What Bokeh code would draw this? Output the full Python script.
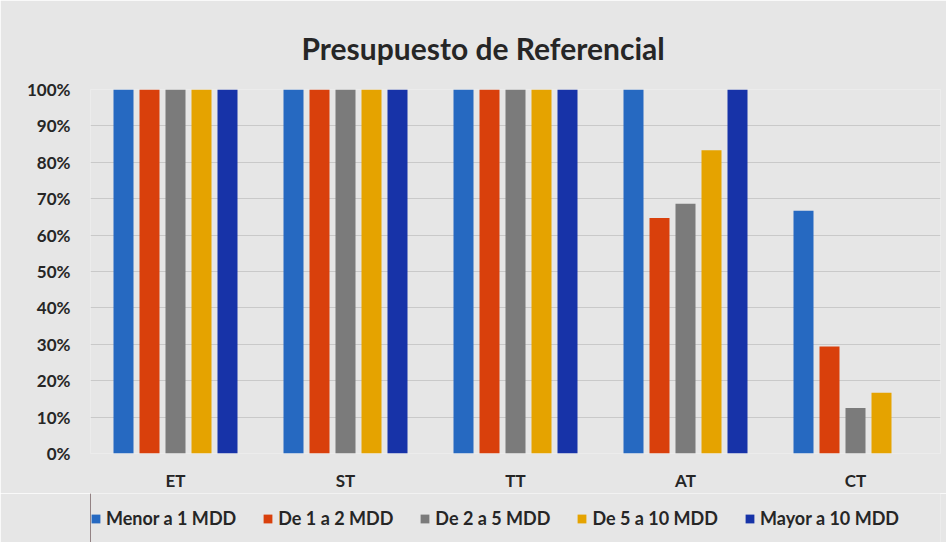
from bokeh.plotting import figure
from bokeh.layouts import column
from bokeh.models import ColumnDataSource, FactorRange, Range1d, NumeralTickFormatter, Legend, LegendItem, Title, FixedTicker
from bokeh.transform import dodge
from bokeh.embed import file_html
from bokeh.resources import INLINE

categories = ["ET", "ST", "TT", "AT", "CT"]
series_names = ["Menor a 1 MDD", "De 1 a 2 MDD", "De 2 a 5 MDD", "De 5 a 10 MDD", "Mayor a 10 MDD"]
menor_1 = [1.00, 1.00, 1.00, 1.00, 0.667]
de_1_2 = [1.00, 1.00, 1.00, 0.647, 0.294]
de_2_5 = [1.00, 1.00, 1.00, 0.686, 0.125]
de_5_10 = [1.00, 1.00, 1.00, 0.833, 0.167]
mayor_10 = [1.00, 1.00, 1.00, 1.00, 0.0]
y_ticks = [0, 0.1, 0.2, 0.3, 0.4, 0.5, 0.6, 0.7, 0.8, 0.9, 1.0]

colors = ["#2669c1", "#d9400c", "#7b7b7b", "#e5a300", "#1733a8"]
keys = ["s0", "s1", "s2", "s3", "s4"]
source = ColumnDataSource(dict(cat=categories, s0=menor_1, s1=de_1_2, s2=de_2_5, s3=de_5_10, s4=mayor_10))

FONT = "Lato"
BG = "#e6e6e6"
TXT = "#262626"

p = figure(x_range=FactorRange(*categories, range_padding=0), y_range=Range1d(0, 1),
           frame_width=850, frame_height=364, output_backend="svg", toolbar_location=None,
           min_border_left=90, min_border_right=6, min_border_top=89, min_border_bottom=0,
           title=None)
p.background_fill_color = BG
p.border_fill_color = BG
p.outline_line_color = None

step = 26 / 170
bw = 20 / 170
for i, (k, c) in enumerate(zip(keys, colors)):
    p.vbar(x=dodge("cat", (i - 2) * step, range=p.x_range), top=k, width=bw, source=source,
           fill_color=c, line_color=None)

for ax in (p.xaxis, p.yaxis):
    ax.axis_line_color = None
    ax.major_tick_line_color = None
    ax.minor_tick_line_color = None
    ax.major_tick_out = 0
    ax.major_tick_in = 0
    ax.minor_tick_out = 0
    ax.minor_tick_in = 0
    ax.major_label_text_font = FONT
    ax.major_label_text_font_style = "bold"
    ax.major_label_text_font_size = "17px"
    ax.major_label_text_color = TXT

p.yaxis.ticker = FixedTicker(ticks=y_ticks)
p.yaxis.formatter = NumeralTickFormatter(format="0%")
p.yaxis.major_label_standoff = 20
p.xaxis.major_label_standoff = 16

p.xgrid.grid_line_color = None
p.ygrid.grid_line_color = "#c9c9c9"
p.ygrid.grid_line_width = 1

title = Title(text="Presupuesto de Referencial", align="left", offset=211, standoff=48,
              text_font=FONT, text_font_style="bold", text_font_size="30px", text_color=TXT)
p.add_layout(title, "above")

# legend strip below the chart (legend swatches come from off-screen proxy bars)
lg = figure(width=946, height=52, output_backend="svg", toolbar_location=None,
            min_border_left=90, min_border_right=6, min_border_top=0, min_border_bottom=0,
            x_range=Range1d(0, 1), y_range=Range1d(0, 1))
lg.axis.visible = False
lg.grid.visible = False
lg.background_fill_color = BG
lg.border_fill_color = BG
lg.border_fill_alpha = 1
lg.outline_line_color = None
items = []
for name, c in zip(series_names, colors):
    r = lg.vbar(x=[-5], top=[1], width=0.1, fill_color=c, line_color=None)
    items.append(LegendItem(label=name, renderers=[r]))
legend = Legend(items=items, orientation="horizontal", location=(0, 16),
                label_text_font=FONT, label_text_font_style="bold", label_text_font_size="18px",
                label_text_color=TXT, glyph_width=11, glyph_height=11,
                spacing=26, label_standoff=5, background_fill_alpha=0, border_line_color=None,
                margin=0, padding=0)
lg.add_layout(legend)

open("out.html", "w").write(file_html(column(p, lg, spacing=0), INLINE))
